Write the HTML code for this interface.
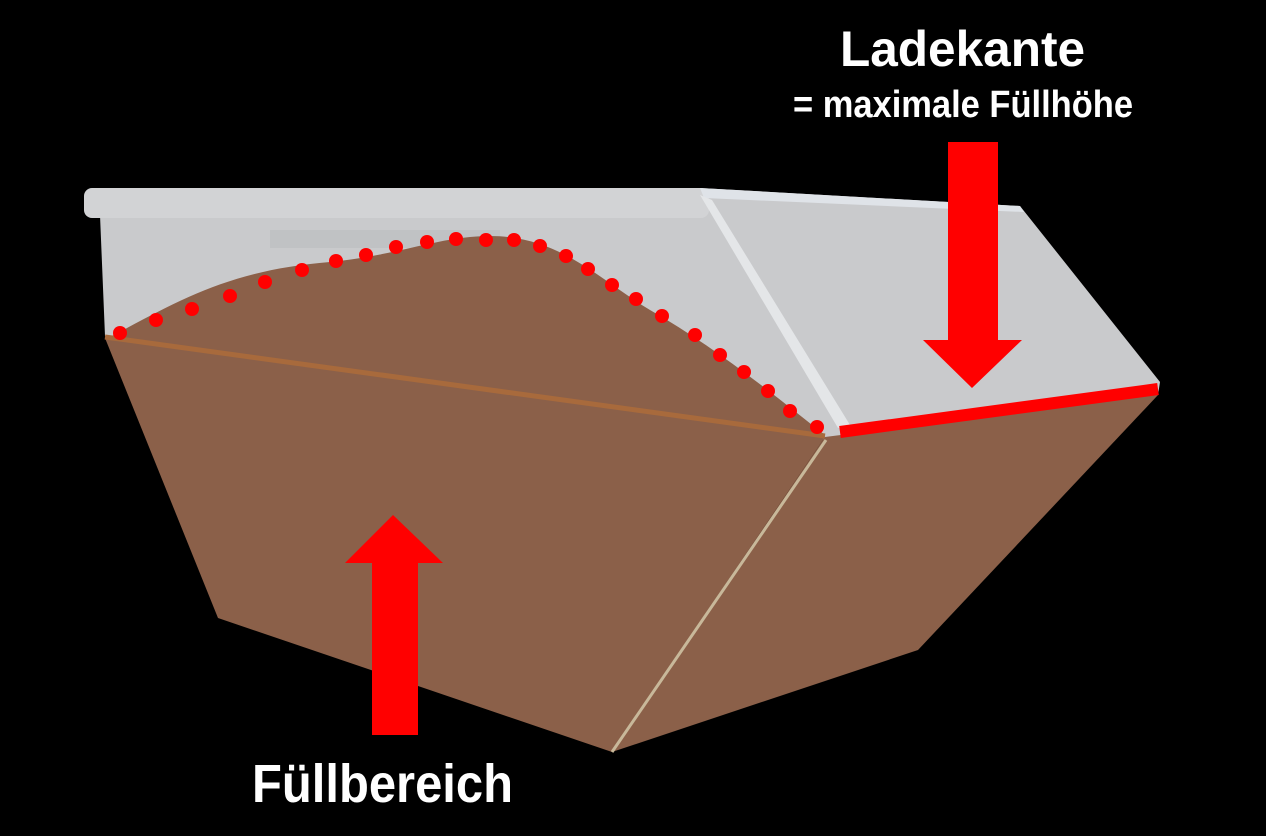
<!DOCTYPE html>
<html><head><meta charset="utf-8"><style>html,body{margin:0;padding:0;background:#000;}svg{display:block}</style></head>
<body>
<svg width="1266" height="836" viewBox="0 0 1266 836" xmlns="http://www.w3.org/2000/svg">
<rect width="1266" height="836" fill="#000"/>
<polygon points="92,192 700,188 1020,206 1160,382 1158,395 825,440 105,336 100,215" fill="#c9cacc"/>
<rect x="84" y="188" width="625" height="30" rx="8" fill="#d2d3d5"/>
<polygon points="700,188 1020,206 1024,212 704,198" fill="#dfe3e8"/>
<polygon points="700,195 712,200 850,425 838,428" fill="#e4e6e8"/>
<rect x="270" y="230" width="230" height="18" fill="#b8b9bb" opacity="0.5"/>
<path d="M110,337 C180,300 230,270 330,262 C400,255 440,236 490,236 C560,236 600,280 650,310 C720,350 780,400 825,435 Z" fill="#8b6049"/>
<polygon points="105,338 825,437 612,752 218,618" fill="#8b6049"/>
<polygon points="825,437 1158,395 918,650 612,752" fill="#8b6049"/>
<line x1="105" y1="337" x2="825" y2="436" stroke="#a86a3c" stroke-width="5"/>
<line x1="826" y1="440" x2="612" y2="752" stroke="#c8b89a" stroke-width="3"/>
<line x1="840" y1="432" x2="1158" y2="389" stroke="#ff0000" stroke-width="12"/>
<g fill="#ff0000">
<circle cx="120" cy="333" r="7"/><circle cx="156" cy="320" r="7"/><circle cx="192" cy="309" r="7"/><circle cx="230" cy="296" r="7"/><circle cx="265" cy="282" r="7"/><circle cx="302" cy="270" r="7"/><circle cx="336" cy="261" r="7"/><circle cx="366" cy="255" r="7"/><circle cx="396" cy="247" r="7"/><circle cx="427" cy="242" r="7"/><circle cx="456" cy="239" r="7"/><circle cx="486" cy="240" r="7"/><circle cx="514" cy="240" r="7"/><circle cx="540" cy="246" r="7"/><circle cx="566" cy="256" r="7"/><circle cx="588" cy="269" r="7"/><circle cx="612" cy="285" r="7"/><circle cx="636" cy="299" r="7"/><circle cx="662" cy="316" r="7"/><circle cx="695" cy="335" r="7"/><circle cx="720" cy="355" r="7"/><circle cx="744" cy="372" r="7"/><circle cx="768" cy="391" r="7"/><circle cx="790" cy="411" r="7"/><circle cx="817" cy="427" r="7"/>
</g>
<polygon points="948,142 998,142 998,340 1022,340 972,388 923,340 948,340" fill="#ff0000"/>
<polygon points="393,515 443,563 418,563 418,735 372,735 372,563 345,563" fill="#ff0000"/>
<g fill="#fff" font-family="Liberation Sans, sans-serif" font-weight="bold">
<text x="840" y="66" font-size="50" textLength="245" lengthAdjust="spacingAndGlyphs">Ladekante</text>
<text x="793" y="117" font-size="38" textLength="340" lengthAdjust="spacingAndGlyphs">= maximale Füllhöhe</text>
<text x="252" y="802" font-size="54" textLength="261" lengthAdjust="spacingAndGlyphs">Füllbereich</text>
</g>
</svg>
</body></html>
